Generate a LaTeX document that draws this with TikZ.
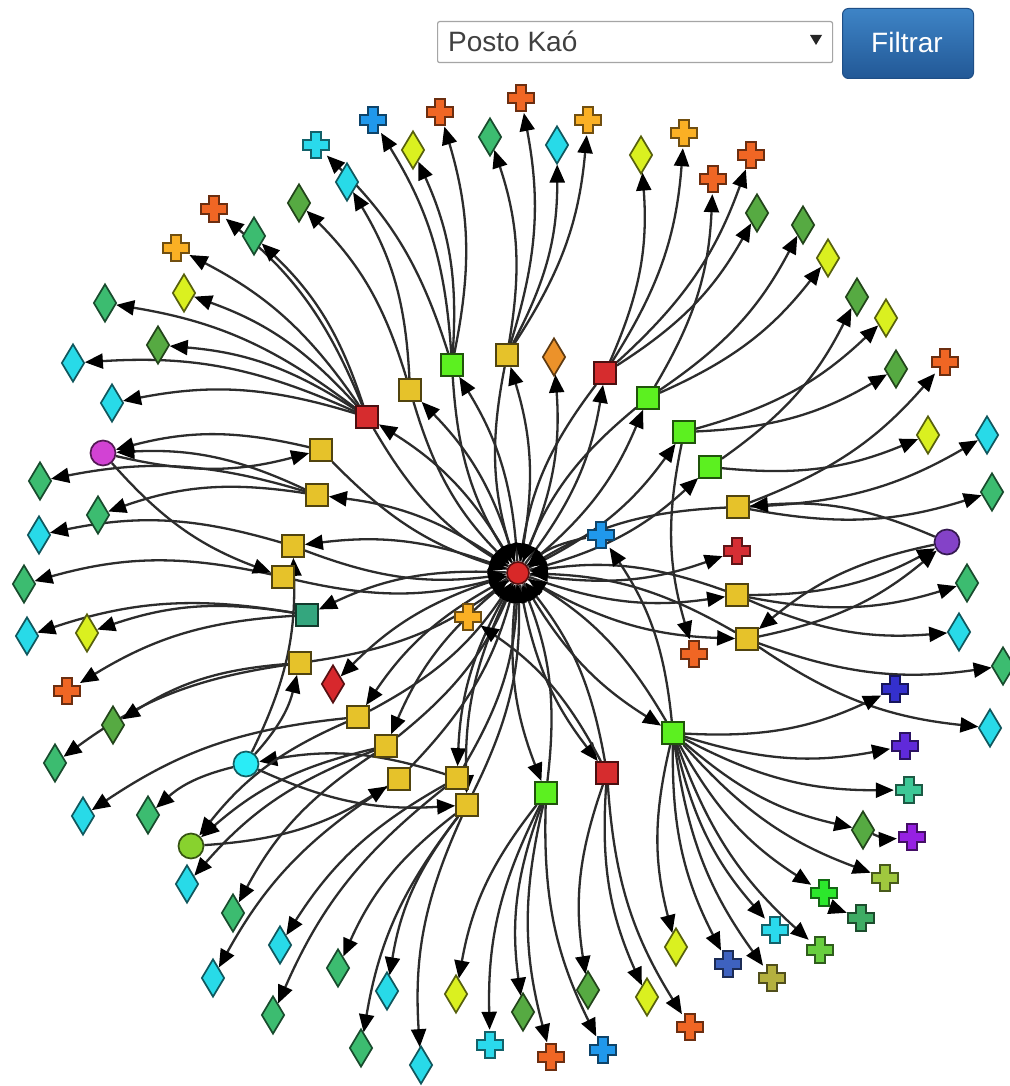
\documentclass[tikz,border=0pt]{standalone}
\usepackage{fontspec}
\setmainfont{Liberation Sans}
\usetikzlibrary{arrows.meta,shapes.geometric,backgrounds}

% node fills
\definecolor{sea}{RGB}{60,188,112}
\definecolor{leaf}{RGB}{86,170,66}
\definecolor{cyanD}{RGB}{40,218,232}
\definecolor{yellowD}{RGB}{218,240,32}
\definecolor{orangeD}{RGB}{236,146,42}
\definecolor{redD}{RGB}{215,40,45}
\definecolor{orangeX}{RGB}{240,102,36}
\definecolor{goldX}{RGB}{250,176,36}
\definecolor{cyanX}{RGB}{42,218,236}
\definecolor{blueX}{RGB}{32,152,236}
\definecolor{redX}{RGB}{214,46,52}
\definecolor{indigoX}{RGB}{52,48,205}
\definecolor{violetX}{RGB}{96,42,218}
\definecolor{tealX}{RGB}{62,200,150}
\definecolor{purpleX}{RGB}{150,32,226}
\definecolor{ogreenX}{RGB}{160,200,62}
\definecolor{greenX}{RGB}{44,232,44}
\definecolor{sgreenX}{RGB}{62,172,100}
\definecolor{lgreenX}{RGB}{104,206,62}
\definecolor{steelX}{RGB}{62,98,192}
\definecolor{oliveX}{RGB}{180,176,62}
\definecolor{ysq}{RGB}{230,194,42}
\definecolor{gsq}{RGB}{92,240,32}
\definecolor{rsq}{RGB}{214,44,46}
\definecolor{tsq}{RGB}{52,166,126}
\definecolor{cpurple}{RGB}{132,66,200}
\definecolor{cmag}{RGB}{210,66,212}
\definecolor{ccyan}{RGB}{42,236,246}
\definecolor{cgreen}{RGB}{136,210,46}
\definecolor{cred}{RGB}{216,40,40}
% links and interface
\definecolor{linkgray}{RGB}{44,44,44}
\definecolor{uitext}{RGB}{64,64,64}
\definecolor{uiborder}{RGB}{165,165,165}
\definecolor{btntop}{RGB}{62,132,198}
\definecolor{btnbot}{RGB}{34,88,150}
\definecolor{btnedge}{RGB}{30,78,134}

\begin{document}
\begin{tikzpicture}[x=1pt,y=-1pt,
  link/.style={draw=linkgray, line width=2.3pt,
    -{Triangle[length=18pt,width=15pt,color=black]}},
  sq/.style={rectangle, draw=#1!35!black, fill=#1, line width=1.7pt,
    minimum size=22pt, inner sep=0pt},
  dia/.style={diamond, draw=#1!40!black, fill=#1, line width=1.7pt,
    minimum width=23pt, minimum height=38pt, inner sep=0pt},
  dot/.style={circle, draw=#1!40!black, fill=#1, line width=1.7pt,
    minimum size=25pt, inner sep=0pt},
  crs/.style={circle, minimum size=30pt, inner sep=0pt, path picture={
    \draw[fill=#1, draw=#1!45!black, line width=1.7pt, line join=miter]
      (path picture bounding box.center) ++(-5,-13) -- ++(10,0) -- ++(0,8)
      -- ++(8,0) -- ++(0,10) -- ++(-8,0) -- ++(0,8) -- ++(-10,0)
      -- ++(0,-8) -- ++(-8,0) -- ++(0,-10) -- ++(8,0) -- cycle;}},
]
\useasboundingbox (0,0) rectangle (1009,1086);

% ---- filter bar ----
\node[draw=uiborder, line width=1.2pt, rounded corners=2pt, fill=white,
  minimum width=395pt, minimum height=41pt, anchor=north west, inner sep=0pt]
  (select) at (437,21) {};
\node[anchor=base west, inner sep=0pt, text=uitext,
  font=\fontsize{28}{32}\selectfont] (selected) at (448,52) {Posto Kaó};
\fill[black!85] (810,35) -- (822,35) -- (816,45) -- cycle;
\node[draw=btnedge, line width=1pt, rounded corners=6pt, top color=btntop,
  bottom color=btnbot, minimum width=131pt, minimum height=70pt,
  anchor=north west, inner sep=0pt] (button) at (842,8) {};
\node[anchor=base, inner sep=0pt, text=white,
  font=\fontsize{28}{32}\selectfont] (buttontext) at (907,53) {Filtrar};

% ---- central node and hubs ----
\node[dot=cred, minimum size=22pt] (c) at (518,573) {};
\node[sq=gsq] (h1) at (452,365) {};
\node[sq=ysq] (h2) at (507,355) {};
\node[dia=orangeD] (d0) at (554,357) {};
\node[sq=rsq] (h4) at (605,373) {};
\node[sq=gsq] (h5) at (648,398) {};
\node[sq=rsq] (h6) at (367,417) {};
\node[sq=ysq] (h7) at (410,390) {};
\node[sq=gsq] (h8) at (684,432) {};
\node[sq=gsq] (h9) at (710,467) {};
\node[sq=ysq] (h10) at (321,450) {};
\node[sq=ysq] (h11) at (317,495) {};
\node[sq=ysq] (h12) at (738,507) {};
\node[crs=blueX] (xb) at (601,535) {};
\node[crs=redX] (xr) at (737,551) {};
\node[dot=cpurple] (cp) at (947,542) {};
\node[dot=cmag] (cm) at (103,453) {};
\node[sq=ysq] (h13) at (293,546) {};
\node[sq=ysq] (h14) at (283,577) {};
\node[sq=tsq] (h15) at (307,615) {};
\node[crs=goldX] (xo) at (468,617) {};
\node[sq=ysq] (h16) at (737,595) {};
\node[sq=ysq] (h17) at (747,639) {};
\node[crs=orangeX] (xo2) at (694,654) {};
\node[sq=ysq] (h18) at (300,663) {};
\node[dia=redD] (dr) at (333,684) {};
\node[sq=ysq] (h19) at (358,717) {};
\node[sq=ysq] (h20) at (386,746) {};
\node[dot=ccyan] (cc) at (246,764) {};
\node[sq=ysq] (h21) at (399,779) {};
\node[sq=ysq] (h22) at (457,778) {};
\node[sq=ysq] (h23) at (467,805) {};
\node[sq=gsq] (g) at (673,733) {};
\node[sq=rsq] (h24) at (607,773) {};
\node[sq=gsq] (h25) at (546,793) {};
\node[dot=cgreen] (cg) at (191,846) {};

% ---- leaves, top ----
\node[crs=cyanX] (t1) at (316,145) {};
\node[crs=blueX] (t2) at (373,120) {};
\node[crs=orangeX] (t3) at (440,112) {};
\node[dia=yellowD] (t4) at (413,150) {};
\node[dia=sea] (t5) at (490,137) {};
\node[crs=orangeX] (t6) at (521,98) {};
\node[dia=cyanD] (t7) at (557,145) {};
\node[crs=goldX] (t8) at (588,120) {};
\node[dia=yellowD] (t9) at (641,155) {};
\node[crs=goldX] (t10) at (684,133) {};
\node[crs=orangeX] (t11) at (713,179) {};
\node[crs=orangeX] (t12) at (751,155) {};
\node[dia=cyanD] (t13) at (347,182) {};
\node[dia=leaf] (t14) at (299,203) {};
\node[crs=orangeX] (t15) at (214,209) {};
\node[dia=sea] (t16) at (254,236) {};
\node[crs=goldX] (t17) at (176,248) {};
\node[dia=yellowD] (t18) at (184,293) {};
\node[dia=sea] (t19) at (105,303) {};
\node[dia=leaf] (t20) at (158,345) {};
\node[dia=cyanD] (t21) at (73,363) {};
\node[dia=cyanD] (t22) at (112,403) {};

% ---- leaves, right ----
\node[dia=leaf] (r1) at (757,213) {};
\node[dia=leaf] (r2) at (803,225) {};
\node[dia=yellowD] (r3) at (828,258) {};
\node[dia=leaf] (r4) at (857,297) {};
\node[dia=yellowD] (r5) at (886,318) {};
\node[dia=leaf] (r6) at (896,369) {};
\node[crs=orangeX] (r7) at (945,362) {};
\node[dia=yellowD] (r8) at (928,435) {};
\node[dia=cyanD] (r9) at (987,435) {};
\node[dia=sea] (r10) at (992,492) {};
\node[dia=sea] (r11) at (967,583) {};
\node[dia=cyanD] (r12) at (959,632) {};
\node[dia=sea] (r13) at (1003,666) {};
\node[crs=indigoX] (r14) at (895,689) {};
\node[dia=cyanD] (r15) at (990,728) {};
\node[crs=violetX] (r16) at (905,746) {};
\node[crs=tealX] (r17) at (909,790) {};
\node[dia=leaf] (r18) at (863,830) {};
\node[crs=purpleX] (r19) at (912,837) {};
\node[crs=ogreenX] (r20) at (885,878) {};
\node[crs=greenX] (r21) at (824,893) {};
\node[crs=sgreenX] (r22) at (861,918) {};
\node[crs=cyanX] (r23) at (775,930) {};
\node[crs=lgreenX] (r24) at (820,950) {};
\node[crs=steelX] (r25) at (728,964) {};
\node[crs=oliveX] (r26) at (772,978) {};
\node[dia=yellowD] (r27) at (676,947) {};

% ---- leaves, bottom ----
\node[dia=leaf] (b1) at (588,990) {};
\node[dia=yellowD] (b2) at (647,997) {};
\node[crs=orangeX] (b3) at (690,1027) {};
\node[crs=blueX] (b4) at (603,1050) {};
\node[dia=leaf] (b5) at (523,1012) {};
\node[crs=cyanX] (b6) at (490,1045) {};
\node[crs=orangeX] (b7) at (551,1057) {};
\node[dia=yellowD] (b8) at (456,994) {};
\node[dia=cyanD] (b9) at (421,1065) {};
\node[dia=sea] (b10) at (361,1048) {};
\node[dia=cyanD] (b11) at (387,991) {};
\node[dia=sea] (b12) at (338,968) {};
\node[dia=cyanD] (b13) at (280,945) {};
\node[dia=sea] (b14) at (273,1015) {};
\node[dia=cyanD] (b15) at (213,978) {};
\node[dia=sea] (b16) at (233,913) {};
\node[dia=cyanD] (b17) at (187,884) {};

% ---- leaves, left ----
\node[dia=sea] (l1) at (148,815) {};
\node[dia=cyanD] (l2) at (83,816) {};
\node[dia=sea] (l3) at (55,763) {};
\node[dia=leaf] (l4) at (113,725) {};
\node[crs=orangeX] (l5) at (67,691) {};
\node[dia=yellowD] (l6) at (87,633) {};
\node[dia=cyanD] (l7) at (27,636) {};
\node[dia=sea] (l8) at (24,584) {};
\node[dia=cyanD] (l9) at (39,535) {};
\node[dia=sea] (l10) at (98,515) {};
\node[dia=sea] (l11) at (40,481) {};

% ---- links ----
\begin{pgfonlayer}{background}
\fill[white] (0,0) rectangle (1009,1086);
% from the central node
\foreach \a/\b in {c/h1,c/h2,c/d0,c/h4,c/h5,c/h6,c/h7,c/h8,c/h9,c/h11,c/h13,
  c/h15,c/h16,c/h17,c/xr,c/g,c/h24,c/h25,c/dr,c/h19,c/h20,c/h22,c/h23}
  \draw[link] (\a) to[bend right=14] (\b);
% back into the central node
\foreach \a/\b in {h1/c,h2/c,h4/c,h5/c,h6/c,h7/c,h10/c,h12/c,h13/c,h14/c,
  h16/c,h17/c,h18/c,h19/c,h20/c,h21/c,h22/c,h23/c,h25/c,g/c,xb/c,h24/c}
  \draw[link] (\a) to[bend right=14] (\b);
% hubs to their leaves
\foreach \a/\b in {h1/t1,h1/t2,h1/t3,h1/t4,h7/t13,h7/t14,
  h2/t5,h2/t6,h2/t7,h2/t8,h4/t9,h4/t10,h4/t12,h4/r1,h5/t11,h5/r2,h5/r3,
  h6/t15,h6/t16,h6/t17,h6/t18,h6/t19,h6/t20,h6/t21,h6/t22,
  h8/r5,h8/r6,h8/xo2,h9/r4,h9/r8,h12/r7,h12/r9,h12/r10,
  cp/h12,cp/h17,h16/cp,h16/r11,h16/r12,h17/cp,h17/r13,h17/r15,
  g/xb,g/r14,g/r16,g/r17,g/r18,g/r20,g/r21,g/r23,g/r24,g/r25,g/r26,g/r27,
  r18/r19,r21/r22,
  h24/b1,h24/b2,h24/b3,h24/xo,h25/b4,h25/b5,h25/b6,h25/b7,h25/b8,
  h23/b9,h23/b10,h23/b11,h23/b12,h22/b13,h22/b14,h22/cc,h21/b15,
  h20/b16,h20/b17,h20/cg,h19/l2,h19/cg,cc/l1,cc/h23,cc/h18,cc/h13,cg/h21,
  h18/l3,h18/l4,h15/l5,h15/l6,h15/l7,h14/l8,h13/l9,
  h11/l10,h11/l11,h11/cm,h10/cm,cm/h10,cm/h14}
  \draw[link] (\a) to[bend right=14] (\b);
\end{pgfonlayer}
\end{tikzpicture}
\end{document}
